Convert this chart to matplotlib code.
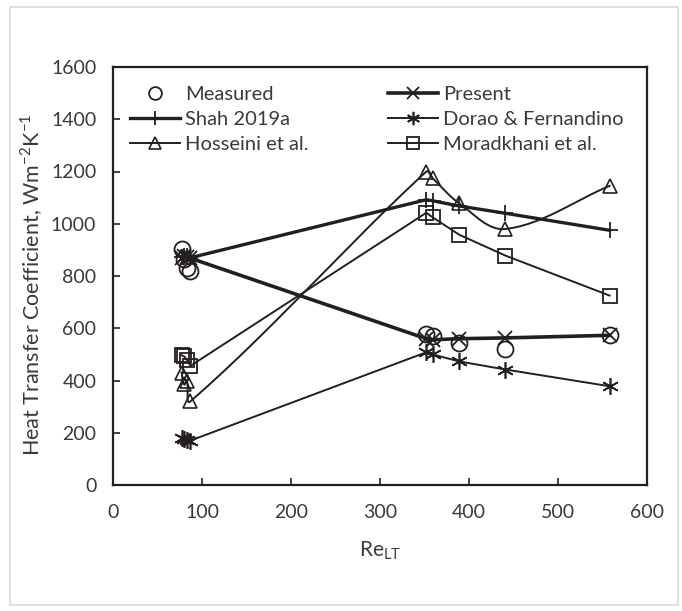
import matplotlib
matplotlib.use("Agg")
import matplotlib.pyplot as plt
import numpy as np
from matplotlib.patches import Rectangle

plt.rcParams['font.family'] = ['Lato', 'DejaVu Sans']
plt.rcParams['mathtext.fontset'] = 'custom'
plt.rcParams['mathtext.rm'] = 'Lato'

# Reynolds numbers (same for every series), data order
re_lt = [77, 80, 83, 87, 352, 359, 389, 441, 558]

measured = [905, 865, 830, 820, 578, 570, 543, 520, 575]
present = [870, 878, 872, 868, 560, 556, 560, 563, 573]
shah = [872, 878, 875, 870, 1092, 1088, 1068, 1040, 975]
dorao = [178, 175, 172, 170, 508, 500, 473, 442, 378]
hosseini = [430, 385, 400, 320, 1200, 1175, 1078, 980, 1145]
moradkhani = [497, 492, 480, 456, 1042, 1025, 958, 878, 725]

ink = '#231f20'
txt = '#3a3a3a'

fig = plt.figure(figsize=(6.82, 6.11), dpi=100)
ax = fig.add_axes([113 / 682, 1 - 485 / 611, 534 / 682, 418 / 611])
ax.set_xlim(0, 600)
ax.set_ylim(0, 1600)

# light grey chart-area border like Excel
fig.patches.append(Rectangle((10 / 682, 1 - 605 / 611), 668 / 682, 598 / 611,
                             transform=fig.transFigure, fill=False,
                             edgecolor='#d9d9d9', linewidth=1.2))


def smooth(xs, ys, n=30):
    # smoothed line through the points, computed in screen space,
    # control arms limited to a third of each segment
    pts = ax.transData.transform(np.column_stack([xs, ys]))
    tang = []
    for i in range(len(pts)):
        a = pts[max(i - 1, 0)]
        b = pts[min(i + 1, len(pts) - 1)]
        d = b - a
        nrm = np.hypot(*d)
        tang.append(d / nrm if nrm > 0 else d)
    out = [pts[0]]
    for i in range(len(pts) - 1):
        p1, p2 = pts[i], pts[i + 1]
        L = np.hypot(*(p2 - p1)) / 3
        c1 = p1 + tang[i] * L
        c2 = p2 - tang[i + 1] * L
        t = np.linspace(0, 1, n)[1:, None]
        seg = ((1 - t) ** 3) * p1 + 3 * ((1 - t) ** 2) * t * c1 + 3 * (1 - t) * t ** 2 * c2 + t ** 3 * p2
        out.extend(seg)
    out = ax.transData.inverted().transform(np.array(out))
    return out[:, 0], out[:, 1]


mk = dict(color=ink, markerfacecolor='none', markeredgecolor=ink)

h_meas, = ax.plot(re_lt, measured, linestyle='none', marker='o', markersize=11.5,
                  markeredgewidth=1.3, label='Measured', **mk)
h_shah, = ax.plot(re_lt, shah, marker='+', markersize=12, markeredgewidth=1.3,
                  linewidth=2.4, label='Shah 2019a', **mk)
hx, hy = smooth(re_lt, hosseini)
ax.plot(hx, hy, color=ink, linewidth=1.4)
ax.plot(re_lt, hosseini, linestyle='none', marker='^', markersize=10,
        markeredgewidth=1.2, **mk)
h_hoss, = ax.plot([], [], marker='^', markersize=10, markeredgewidth=1.2,
                  linewidth=1.4, label='Hosseini et al.', **mk)
h_pres, = ax.plot(re_lt, present, marker='x', markersize=10, markeredgewidth=1.3,
                  linewidth=2.6, label='Present', **mk)
h_dor, = ax.plot(re_lt, dorao, marker=(6, 2, 0), markersize=12, markeredgewidth=1.2,
                 linewidth=1.4, label='Dorao & Fernandino', **mk)
h_mor, = ax.plot(re_lt, moradkhani, marker='s', markersize=10, markeredgewidth=1.3,
                 linewidth=1.4, label='Moradkhani et al.', **mk)

handles = [h_meas, h_shah, h_hoss, h_pres, h_dor, h_mor]
ax.legend(handles=handles, ncol=2, loc='upper left', bbox_to_anchor=(0.032, 0.955),
          frameon=False, fontsize=14.5, handlelength=2.5, handletextpad=0.25,
          columnspacing=3.9, labelspacing=0.4, borderaxespad=0, borderpad=0,
          markerscale=0.8, labelcolor=txt)

ax.set_xticks(np.arange(0, 601, 100))
ax.set_yticks(np.arange(0, 1601, 200))
ax.tick_params(direction='in', length=5, width=1.2, colors=ink, labelsize=14,
               labelcolor=txt)
ax.tick_params(axis='x', pad=14)
ax.tick_params(axis='y', pad=12)
for s in ax.spines.values():
    s.set_linewidth(1.6)
    s.set_color(ink)

ax.set_xlabel('Re$_{\\mathregular{LT}}$', fontsize=15, color=txt, labelpad=13)
ax.set_ylabel('Heat Transfer Coefficient, Wm$^{\\mathregular{-2}}$K$^{\\mathregular{-1}}$',
              fontsize=15.5, color=txt)
ax.yaxis.set_label_coords(-0.128, 0.48)

fig.savefig('out.png', dpi=100)
